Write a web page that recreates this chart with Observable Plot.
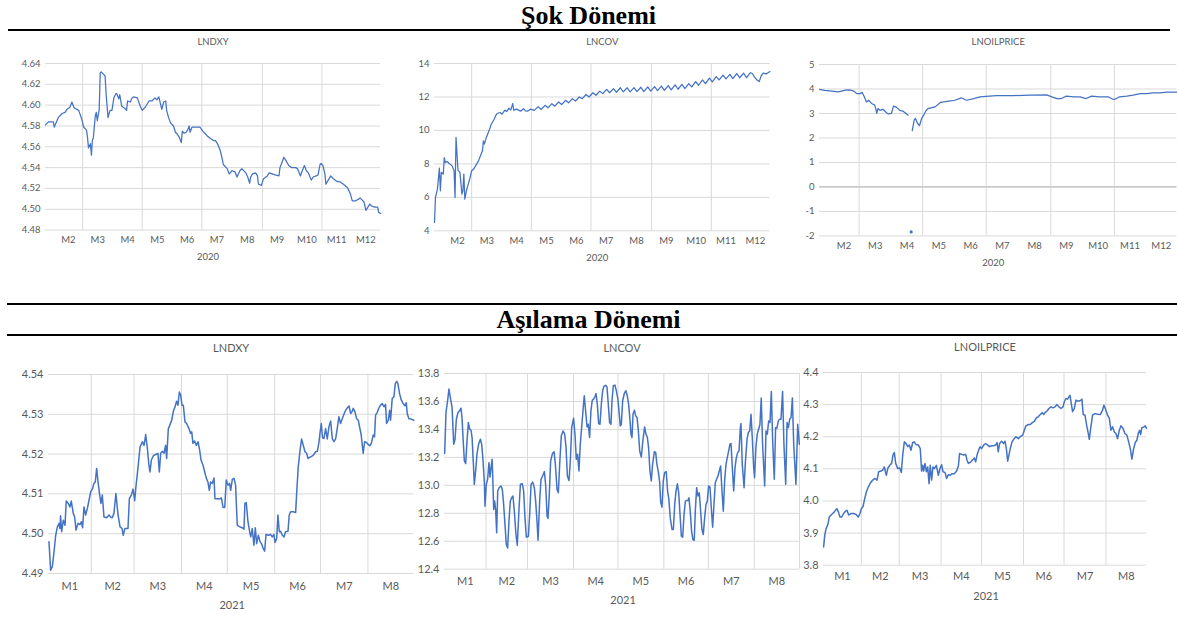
<!DOCTYPE html>
<html><head><meta charset="utf-8">
<script src="https://cdn.jsdelivr.net/npm/d3@7"></script>
<script src="https://cdn.jsdelivr.net/npm/@observablehq/plot@0.6"></script>
<style>
html,body{margin:0;padding:0;background:#fff;overflow:hidden}
#page{position:relative;width:1177px;height:618px;overflow:hidden;background:#fff}
.sect{position:absolute;left:0;width:1177px;text-align:center;font:bold 26px "Liberation Serif","Times New Roman",serif;color:#000;line-height:26px}
.bar{position:absolute;background:#000}
.chart{position:absolute}
</style></head><body>
<div id="page">
  <div class="sect" id="s1" style="top:3px"></div>
  <div class="bar" style="left:8px;top:29px;width:1162px;height:2.4px"></div>
  <div class="bar" style="left:7px;top:303px;width:1170px;height:2.4px"></div>
  <div class="sect" id="s2" style="top:307px"></div>
  <div class="bar" style="left:7px;top:334px;width:1170px;height:2.4px"></div>
</div>
<script>
// ---------- DATA: [day of year (Jan 1 = 0), value] ----------
const sectionTitles = ["Şok Dönemi", "Aşılama Dönemi"];
const chartTitles = ["LNDXY", "LNCOV", "LNOILPRICE"];

const ticksDxy2020 = [4.48, 4.50, 4.52, 4.54, 4.56, 4.58, 4.60, 4.62, 4.64];
const ticksCov2020 = [4, 6, 8, 10, 12, 14];
const ticksOil2020 = [-2, -1, 0, 1, 2, 3, 4, 5];
const ticksDxy2021 = [4.49, 4.50, 4.51, 4.52, 4.53, 4.54];
const ticksCov2021 = [12.4, 12.6, 12.8, 13.0, 13.2, 13.4, 13.6, 13.8];
const ticksOil2021 = [3.8, 3.9, 4.0, 4.1, 4.2, 4.3, 4.4];

const gridMonths2020 = [3, 5, 7, 9, 11];
const gridMonths2021 = [2, 3, 4, 5, 6, 7, 8];

const dxy2020 = [[22,4.581],[25,4.584],[30,4.584],[31,4.579],[35,4.588],[39,4.592],[42,4.593],[44,4.596],[47,4.598],[49,4.603],[51,4.598],[52,4.597],[56,4.595],[59,4.587],[61,4.579],[64,4.576],[65,4.569],[66,4.559],[68,4.563],[69,4.552],[70,4.566],[71,4.569],[73,4.590],[74,4.593],[75,4.585],[77,4.596],[78,4.631],[79,4.632],[81,4.630],[83,4.628],[84,4.611],[86,4.588],[88,4.595],[90,4.595],[92,4.607],[94,4.611],[95,4.611],[97,4.606],[98,4.610],[100,4.599],[103,4.597],[105,4.595],[106,4.604],[109,4.603],[110,4.606],[112,4.608],[116,4.607],[119,4.599],[121,4.595],[124,4.598],[128,4.604],[131,4.604],[133,4.606],[134,4.607],[136,4.605],[138,4.608],[140,4.600],[141,4.596],[143,4.603],[145,4.604],[146,4.595],[148,4.588],[150,4.583],[153,4.580],[155,4.574],[157,4.572],[159,4.569],[161,4.564],[162,4.575],[164,4.573],[166,4.574],[168,4.577],[169,4.580],[170,4.574],[172,4.579],[174,4.579],[177,4.579],[180,4.579],[183,4.575],[186,4.572],[188,4.570],[191,4.568],[194,4.566],[196,4.566],[198,4.563],[199,4.561],[201,4.556],[203,4.548],[204,4.543],[208,4.539],[210,4.534],[213,4.537],[216,4.536],[218,4.531],[221,4.537],[223,4.539],[227,4.535],[229,4.531],[231,4.525],[232,4.531],[234,4.534],[237,4.535],[239,4.532],[240,4.524],[243,4.523],[245,4.529],[249,4.532],[251,4.535],[254,4.534],[257,4.533],[261,4.532],[262,4.540],[264,4.545],[266,4.550],[268,4.547],[271,4.542],[274,4.540],[278,4.540],[280,4.539],[283,4.532],[284,4.535],[287,4.542],[289,4.537],[291,4.535],[294,4.528],[296,4.531],[299,4.532],[301,4.533],[303,4.543],[304,4.544],[306,4.542],[308,4.534],[309,4.524],[312,4.529],[314,4.532],[317,4.529],[320,4.527],[324,4.526],[327,4.524],[331,4.521],[332,4.519],[334,4.515],[336,4.508],[339,4.508],[343,4.510],[344,4.511],[346,4.509],[348,4.507],[350,4.499],[352,4.502],[354,4.505],[356,4.503],[359,4.502],[361,4.502],[362,4.502],[363,4.497],[365,4.496]];

const cov2020 = [[22,4.50],[23,6.0],[25,6.49],[27,7.75],[28,6.39],[29,7.49],[31,7.39],[32,8.38],[33,8.08],[35,8.14],[37,8.02],[40,7.88],[42,7.59],[43,5.99],[44,9.58],[46,7.63],[48,7.49],[50,6.19],[51,6.39],[52,7.39],[53,5.89],[55,6.49],[58,7.09],[60,7.59],[62,7.69],[64,7.88],[67,8.18],[69,8.48],[71,8.78],[72,9.38],[73,9.18],[75,9.58],[78,10.02],[80,10.37],[83,10.67],[85,10.93],[86,11.01],[89,11.07],[91,10.97],[94,11.21],[96,11.13],[98,11.33],[100,11.21],[102,11.61],[103,11.21],[106,11.27],[110,11.15],[113,11.3],[115,11.17],[117,11.15],[120,11.27],[124,11.2],[128,11.42],[131,11.25],[135,11.5],[138,11.35],[142,11.6],[145,11.45],[149,11.7],[152,11.55],[156,11.8],[159,11.65],[163,11.9],[166,11.75],[170,12.0],[173,11.9],[177,12.15],[180,12.0],[184,12.25],[187,12.1],[191,12.35],[194,12.2],[198,12.45],[201,12.25],[205,12.5],[208,12.28],[212,12.55],[215,12.3],[219,12.55],[222,12.3],[226,12.56],[229,12.32],[233,12.58],[236,12.32],[240,12.6],[243,12.35],[247,12.62],[250,12.38],[254,12.65],[257,12.4],[261,12.68],[264,12.42],[268,12.72],[271,12.46],[275,12.75],[278,12.5],[282,12.8],[285,12.6],[289,12.92],[292,12.7],[296,13.02],[299,12.8],[303,13.12],[306,12.9],[310,13.22],[313,13.02],[317,13.3],[320,13.08],[324,13.35],[327,13.1],[331,13.4],[334,13.15],[338,13.42],[341,13.15],[345,13.45],[347,13.4],[349,13.2],[352,13.0],[354,12.92],[356,13.26],[358,13.42],[361,13.38],[363,13.45],[365,13.52]];

const oil2020 = [[22,3.98],[27,3.94],[34,3.91],[40,3.88],[47,3.95],[51,3.96],[55,3.91],[58,3.81],[61,3.81],[63,3.86],[65,3.68],[67,3.47],[69,3.54],[72,3.41],[75,3.34],[76,3.20],[77,3.0],[78,3.20],[80,3.13],[83,3.17],[86,3.04],[88,2.98],[91,3.0],[93,3.3],[96,3.25],[99,3.13],[102,3.1],[105,3.0],[107,2.93],[109,null],[111,2.3],[113,2.75],[114,2.8],[116,2.6],[118,2.5],[120,2.8],[122,2.93],[124,3.1],[126,3.2],[133,3.27],[138,3.45],[146,3.5],[152,3.54],[158,3.64],[163,3.54],[170,3.61],[176,3.68],[182,3.7],[192,3.73],[208,3.73],[224,3.75],[240,3.76],[245,3.68],[250,3.61],[254,3.61],[259,3.71],[266,3.68],[272,3.68],[278,3.61],[283,3.71],[291,3.68],[299,3.68],[304,3.57],[307,3.61],[310,3.68],[317,3.71],[323,3.75],[330,3.81],[336,3.81],[342,3.84],[349,3.84],[355,3.87],[365,3.87]];
const oilIsolated2020 = [[110,-1.84]];

const dxy2021 = [[3.3,4.4980],[4.4,4.4908],[5.5,4.4917],[6.6,4.4954],[7.7,4.4996],[8.8,4.5017],[9.9,4.5026],[10.5,4.5013],[10.9,4.5045],[11.6,4.5005],[12.7,4.5034],[13.8,4.5021],[14.6,4.5082],[16.0,4.5076],[17.0,4.5067],[17.9,4.5082],[19.2,4.5051],[20.1,4.5042],[21.0,4.5009],[22.3,4.5026],[23.6,4.5023],[24.5,4.5030],[25.3,4.5015],[26.2,4.5067],[27.3,4.5047],[28.4,4.5063],[29.5,4.5084],[30.6,4.5105],[31.9,4.5114],[32.7,4.5126],[33.6,4.5130],[34.5,4.5164],[35.4,4.5130],[36.5,4.5097],[37.3,4.5076],[38.2,4.5097],[39.3,4.5042],[41.0,4.5040],[42.6,4.5047],[43.6,4.5042],[44.7,4.5040],[45.8,4.5051],[47.1,4.5101],[48.5,4.5047],[49.8,4.5017],[51.1,4.5013],[51.9,4.4996],[53.0,4.5013],[55.0,4.5013],[55.9,4.5088],[57.2,4.5097],[58.3,4.5112],[59.4,4.5083],[60.2,4.5118],[61.5,4.5164],[62.9,4.5218],[64.4,4.5231],[65.5,4.5222],[66.6,4.5249],[67.7,4.5214],[68.7,4.5172],[69.4,4.5155],[70.3,4.5185],[71.6,4.5196],[73.1,4.5199],[74.6,4.5202],[75.5,4.5155],[76.4,4.5202],[77.5,4.5207],[78.6,4.5202],[79.6,4.5222],[80.3,4.5189],[81.4,4.5264],[82.5,4.5274],[83.6,4.5285],[84.7,4.5308],[85.8,4.5319],[86.8,4.5333],[87.7,4.5323],[88.6,4.5356],[89.5,4.5348],[90.3,4.5323],[91.2,4.5323],[92.3,4.5281],[93.4,4.5277],[94.9,4.5264],[96.0,4.5252],[96.7,4.5256],[97.5,4.5227],[98.6,4.5233],[99.7,4.5222],[100.8,4.5231],[101.9,4.5210],[102.8,4.5185],[104.1,4.5172],[105.2,4.5155],[106.3,4.5139],[107.3,4.5130],[108.2,4.5109],[109.1,4.5130],[110.2,4.5126],[111.3,4.5140],[111.9,4.5088],[113.5,4.5088],[115.0,4.5087],[116.1,4.5090],[117.2,4.5066],[118.3,4.5066],[119.3,4.5135],[120.4,4.5122],[121.5,4.5126],[122.2,4.5109],[123.3,4.5137],[124.4,4.5139],[125.4,4.5122],[126.5,4.5021],[128.3,4.5017],[129.8,4.5015],[130.9,4.5011],[131.5,4.5076],[132.4,4.5078],[133.5,4.5030],[134.6,4.5005],[135.3,4.4992],[136.3,4.5013],[137.4,4.4971],[138.3,4.5015],[139.2,4.4975],[140.3,4.4996],[141.4,4.4980],[142.4,4.4975],[143.5,4.4963],[144.4,4.4956],[145.3,4.4998],[146.8,4.4996],[148.3,4.4998],[149.4,4.4992],[150.5,4.4998],[151.2,4.4978],[152.3,4.4988],[153.1,4.5047],[154.0,4.5005],[154.9,4.5006],[156.0,4.4996],[157.1,4.4992],[158.1,4.5005],[159.7,4.5006],[160.5,4.5047],[161.4,4.5055],[163.2,4.5055],[164.7,4.5053],[165.3,4.5097],[166.4,4.5168],[167.5,4.5207],[168.6,4.5238],[169.7,4.5222],[170.8,4.5206],[171.9,4.5202],[172.8,4.5189],[174.5,4.5193],[176.2,4.5197],[177.8,4.5206],[178.9,4.5207],[180.0,4.5231],[180.6,4.5252],[181.5,4.5277],[182.3,4.5241],[183.2,4.5239],[184.3,4.5264],[185.4,4.5238],[186.5,4.5269],[187.6,4.5283],[188.7,4.5239],[189.8,4.5231],[190.9,4.5239],[191.9,4.5264],[193.0,4.5294],[194.1,4.5277],[195.2,4.5289],[196.3,4.5300],[197.4,4.5310],[198.5,4.5316],[199.6,4.5321],[200.7,4.5302],[201.5,4.5306],[202.4,4.5315],[203.5,4.5306],[204.6,4.5289],[205.7,4.5285],[206.5,4.5269],[207.6,4.5248],[208.3,4.5222],[208.9,4.5202],[209.8,4.5231],[211.1,4.5229],[212.2,4.5224],[213.3,4.5221],[214.2,4.5227],[215.5,4.5248],[216.3,4.5243],[217.0,4.5298],[218.1,4.5305],[219.2,4.5316],[220.3,4.5323],[221.4,4.5327],[222.5,4.5319],[223.5,4.5325],[224.2,4.5277],[225.3,4.5285],[226.2,4.5310],[226.8,4.5285],[227.9,4.5340],[229.0,4.5344],[229.9,4.5377],[230.8,4.5383],[231.6,4.5377],[232.7,4.5352],[233.8,4.5336],[235.1,4.5327],[236.2,4.5321],[237.1,4.5329],[237.7,4.5302],[238.8,4.5289],[240.3,4.5288],[242.0,4.5285]];

const cov2021 = [[3.1,13.227],[4.0,13.521],[5.1,13.605],[6.0,13.689],[6.9,13.629],[8.1,13.557],[9.2,13.294],[10.1,13.330],[11.0,13.473],[12.1,13.521],[13.2,13.533],[14.1,13.552],[14.8,13.485],[15.5,13.342],[16.4,13.174],[17.3,13.155],[18.2,13.318],[19.1,13.449],[20.0,13.401],[20.9,13.394],[21.6,13.342],[22.5,13.150],[23.1,13.007],[24.0,13.102],[24.9,13.222],[26.0,13.294],[27.2,13.330],[28.1,13.294],[29.0,13.174],[29.9,13.019],[30.3,12.851],[31.2,13.007],[32.1,13.043],[33.0,13.162],[33.7,13.059],[34.4,13.126],[35.1,13.186],[35.5,13.078],[36.2,12.827],[36.8,12.887],[37.5,12.827],[38.2,12.660],[38.9,12.959],[39.8,12.983],[41.1,12.995],[42.0,12.971],[42.9,12.863],[43.8,12.720],[44.7,12.576],[45.6,12.552],[46.5,12.744],[47.4,12.887],[48.3,12.911],[49.2,12.923],[50.1,12.815],[51.2,12.648],[52.1,12.571],[53.3,12.839],[54.2,13.007],[55.5,13.011],[56.4,12.959],[57.3,12.767],[58.2,12.629],[59.6,12.636],[60.5,12.803],[61.4,13.007],[62.5,13.023],[63.6,12.983],[64.5,12.887],[65.4,12.744],[66.1,12.607],[67.2,12.887],[68.1,13.043],[69.2,13.067],[70.4,13.098],[71.3,12.995],[72.2,12.779],[72.8,12.763],[73.7,12.935],[74.6,13.174],[75.8,13.227],[76.9,13.241],[77.8,13.150],[78.9,12.971],[79.8,12.947],[80.7,13.150],[81.8,13.354],[83.0,13.389],[84.1,13.366],[85.0,13.270],[85.9,13.067],[87.0,13.035],[87.9,13.174],[88.8,13.413],[90.1,13.480],[91.1,13.354],[91.9,13.186],[92.8,13.222],[93.7,13.102],[94.6,13.294],[95.8,13.449],[96.7,13.569],[97.3,13.641],[98.2,13.533],[99.2,13.418],[100.0,13.437],[100.9,13.342],[101.8,13.533],[102.7,13.610],[103.6,13.617],[104.5,13.633],[105.2,13.657],[106.1,13.581],[107.0,13.442],[107.9,13.437],[108.8,13.581],[109.7,13.677],[110.6,13.710],[111.7,13.715],[112.6,13.705],[113.5,13.581],[114.4,13.449],[115.3,13.437],[116.0,13.605],[116.9,13.712],[118.0,13.717],[118.9,13.677],[120.0,13.617],[120.9,13.509],[121.6,13.425],[122.3,13.437],[123.2,13.605],[124.3,13.657],[125.4,13.677],[126.3,13.641],[127.2,13.581],[128.1,13.473],[128.8,13.366],[129.5,13.342],[130.2,13.509],[131.1,13.538],[132.0,13.497],[132.9,13.485],[133.8,13.389],[134.7,13.246],[135.8,13.203],[136.7,13.306],[138.0,13.418],[138.9,13.366],[139.8,13.346],[140.7,13.270],[141.6,13.102],[142.5,13.031],[143.4,13.150],[144.6,13.241],[145.5,13.234],[146.3,13.150],[147.2,13.102],[148.2,13.019],[148.8,12.882],[149.7,12.844],[150.6,13.031],[151.5,13.090],[152.6,13.098],[153.5,12.959],[154.4,12.899],[155.3,12.767],[156.5,12.684],[157.4,12.684],[158.3,12.863],[159.2,12.959],[160.1,13.011],[161.0,12.947],[161.9,12.791],[162.8,12.636],[163.7,12.629],[164.6,12.791],[165.5,12.887],[166.4,12.892],[167.3,12.892],[167.9,12.911],[168.8,12.815],[169.7,12.672],[170.6,12.612],[171.5,12.607],[172.2,12.815],[173.1,12.983],[174.0,12.923],[174.9,12.947],[175.8,12.815],[176.7,12.684],[177.6,12.648],[178.5,12.767],[179.4,12.863],[180.3,12.887],[181.2,12.995],[182.1,12.988],[183.0,12.839],[183.9,12.700],[184.8,12.863],[185.7,13.019],[186.6,13.043],[187.5,13.067],[188.4,13.102],[189.3,13.138],[190.2,12.959],[191.1,12.815],[192.0,13.031],[192.9,13.150],[193.8,13.198],[194.7,13.246],[195.6,13.294],[196.3,13.299],[197.2,13.126],[198.1,12.959],[199.0,13.126],[199.9,13.198],[200.8,13.234],[201.7,13.246],[202.6,13.413],[203.0,13.442],[203.9,13.150],[205.1,12.983],[205.9,13.150],[207.1,13.330],[208.0,13.378],[208.9,13.389],[209.8,13.509],[210.7,13.330],[211.6,13.126],[212.2,13.055],[213.1,13.270],[214.0,13.366],[214.9,13.401],[215.8,13.433],[216.7,13.624],[217.6,13.294],[219.0,12.995],[219.9,13.389],[220.8,13.366],[221.7,13.461],[222.6,13.449],[223.5,13.672],[224.4,13.318],[225.5,13.043],[226.4,13.413],[227.3,13.409],[228.2,13.461],[229.1,13.473],[230.0,13.473],[231.1,13.672],[232.0,13.294],[233.2,13.007],[234.1,13.449],[235.0,13.413],[235.9,13.473],[236.8,13.485],[237.7,13.624],[238.6,13.294],[240.1,13.007],[241.3,13.437],[242.4,13.294]];

const oil2021 = [[3.1,3.857],[3.9,3.893],[4.9,3.914],[6.1,3.925],[7.3,3.950],[8.6,3.956],[9.8,3.961],[11.0,3.966],[12.3,3.974],[13.0,3.976],[14.0,3.966],[15.2,3.950],[16.5,3.950],[17.9,3.961],[19.2,3.968],[20.4,3.971],[21.6,3.956],[23.4,3.961],[25.3,3.961],[27.1,3.958],[28.8,3.950],[30.0,3.961],[31.0,3.976],[32.2,3.982],[33.2,4.002],[34.7,4.028],[36.2,4.044],[37.7,4.056],[39.4,4.065],[41.1,4.070],[42.6,4.065],[43.8,4.091],[45.5,4.093],[46.8,4.096],[48.0,4.106],[48.8,4.091],[49.5,4.080],[50.5,4.101],[52.0,4.111],[53.4,4.117],[54.4,4.143],[55.4,4.151],[56.4,4.117],[57.9,4.101],[59.4,4.103],[60.6,4.089],[61.6,4.143],[62.8,4.184],[64.0,4.179],[65.3,4.169],[66.5,4.174],[67.7,4.158],[69.0,4.182],[70.2,4.184],[71.4,4.176],[73.2,4.174],[74.6,4.163],[75.6,4.093],[76.4,4.111],[77.1,4.093],[78.1,4.117],[79.1,4.091],[80.1,4.106],[81.1,4.054],[82.0,4.111],[83.0,4.065],[84.0,4.106],[85.0,4.101],[86.5,4.111],[88.0,4.080],[89.2,4.101],[90.4,4.113],[91.4,4.091],[92.9,4.089],[94.1,4.070],[95.4,4.082],[96.8,4.080],[98.3,4.085],[99.8,4.085],[101.5,4.093],[102.8,4.109],[103.7,4.148],[105.2,4.145],[106.7,4.143],[108.2,4.145],[109.2,4.127],[110.2,4.117],[111.6,4.120],[113.1,4.127],[114.6,4.134],[115.6,4.122],[116.6,4.143],[117.8,4.158],[118.8,4.169],[120.0,4.163],[121.5,4.174],[123.0,4.179],[124.5,4.174],[125.9,4.169],[127.4,4.172],[128.9,4.172],[130.4,4.174],[131.4,4.182],[132.3,4.153],[133.3,4.179],[134.8,4.186],[136.3,4.179],[137.3,4.186],[138.3,4.163],[139.3,4.124],[140.2,4.143],[141.2,4.163],[142.5,4.184],[143.7,4.192],[145.4,4.200],[147.1,4.194],[148.6,4.200],[150.4,4.205],[151.6,4.220],[152.8,4.234],[154.5,4.238],[156.0,4.238],[157.5,4.244],[159.0,4.248],[160.5,4.259],[161.9,4.262],[163.4,4.269],[164.9,4.275],[165.9,4.269],[166.9,4.275],[168.4,4.280],[169.8,4.288],[171.3,4.293],[172.8,4.290],[174.3,4.293],[175.8,4.300],[177.2,4.293],[178.7,4.288],[180.2,4.293],[181.2,4.309],[182.4,4.319],[183.6,4.317],[184.6,4.324],[185.4,4.329],[186.1,4.309],[187.3,4.278],[188.6,4.288],[189.8,4.314],[191.0,4.311],[192.3,4.311],[193.5,4.314],[194.2,4.317],[195.2,4.269],[196.5,4.267],[197.7,4.236],[198.7,4.215],[199.7,4.192],[200.7,4.226],[202.1,4.267],[203.9,4.272],[205.8,4.270],[207.8,4.269],[209.5,4.283],[210.5,4.298],[211.8,4.285],[213.2,4.267],[214.5,4.257],[215.7,4.220],[216.9,4.231],[218.2,4.215],[219.4,4.210],[220.6,4.194],[221.9,4.220],[223.1,4.234],[224.6,4.226],[226.0,4.210],[227.5,4.205],[228.8,4.184],[230.0,4.163],[231.2,4.130],[232.5,4.163],[233.7,4.182],[234.9,4.189],[235.9,4.210],[236.9,4.220],[237.7,4.207],[238.6,4.228],[239.9,4.230],[241.1,4.234],[242.0,4.226]];

// ---------- DRAWING ----------
const page = document.getElementById("page");
document.getElementById("s1").textContent = sectionTitles[0];
document.getElementById("s2").textContent = sectionTitles[1];
const dayDate = (year, d) => new Date(Date.UTC(year, 0, 1) + d * 864e5);
const monthStart = (y, m) => new Date(Date.UTC(y, m - 1, 1));
const BLUE = "#4472c4", GRID = "#d9d9d9", TXT = "#595959";

function chart(c) {
  const mL = 50, mR = 14, mT = 36, mB = 44;
  const width = (c.R - c.L) + mL + mR, height = (c.B - c.T) + mT + mB;
  const x0 = dayDate(c.year, c.d0), x1 = dayDate(c.year, c.d1);
  const mids = [];
  for (let m = 1; m <= 12; m++) {
    const a = Math.max(+monthStart(c.year, m), +x0), b = Math.min(+monthStart(c.year, m + 1), +x1);
    if (b - a >= 15 * 864e5) mids.push(new Date((a + b) / 2));
  }
  const toXY = {x: d => dayDate(c.year, d[0]), y: d => d[1]};
  const marks = [
    Plot.ruleY(c.ticks, {stroke: GRID, strokeWidth: 1}),
    Plot.ruleX(c.gridMonths.map(m => monthStart(c.year, m)), {stroke: GRID, strokeWidth: 1})
  ];
  if (c.rightEdge) marks.push(Plot.ruleX([x1], {stroke: GRID}));
  if (c.zeroLine) marks.push(Plot.ruleY([0], {stroke: "#bfbfbf", strokeWidth: 1.2}));
  marks.push(Plot.line(c.series, {...toXY, stroke: BLUE, strokeWidth: c.lw, strokeLinejoin: "round"}));
  if (c.dots) marks.push(Plot.dot(c.dots, {...toXY, r: 1.6, fill: BLUE, stroke: null}));
  marks.push(
    Plot.axisY(c.ticks, {tickSize: 0, tickPadding: 5, tickFormat: c.fmt, fill: TXT, fontSize: c.fs, label: null}),
    Plot.axisX(mids, {tickSize: 0, tickPadding: c.mpad, tickFormat: d => "M" + (d.getUTCMonth() + 1), fill: TXT, fontSize: c.fs, label: null}),
    Plot.text([c.title], {frameAnchor: "top", lineAnchor: "middle", dy: c.tdy, fill: TXT, fontSize: c.fs}),
    Plot.text([String(c.year)], {frameAnchor: "bottom", lineAnchor: "middle", dy: c.ydy, dx: c.ydx, fill: TXT, fontSize: c.fs})
  );
  const svg = Plot.plot({
    width, height, marginLeft: mL, marginRight: mR, marginTop: mT, marginBottom: mB,
    style: {fontFamily: "Lato, 'Open Sans', sans-serif", color: TXT, background: "transparent", overflow: "visible", maxWidth: "none"},
    x: {type: "utc", domain: [x0, x1]},
    y: {domain: [c.ticks[0], c.ticks[c.ticks.length - 1]]},
    marks
  });
  const div = document.createElement("div");
  div.className = "chart";
  div.style.left = (c.L - mL) + "px";
  div.style.top = (c.T - mT) + "px";
  div.appendChild(svg);
  page.appendChild(div);
}

const f2 = d => d.toFixed(2), f1 = d => d.toFixed(1), f0 = d => String(d);
const topCfg = {year: 2020, d0: 22, d1: 365, gridMonths: gridMonths2020, fs: 9.5, lw: 1.25, tdy: -22, ydy: 27, ydx: -5, mpad: 6.5};
const botCfg = {year: 2021, d0: 3, d1: 242, gridMonths: gridMonths2021, fs: 11, lw: 1.5, ydy: 31.7, ydx: 1, mpad: 7.5};

chart({...topCfg, title: chartTitles[0], series: dxy2020, ticks: ticksDxy2020, fmt: f2, L: 45.2, R: 380.3, T: 62.7, B: 229.3});
chart({...topCfg, title: chartTitles[1], series: cov2020, ticks: ticksCov2020, fmt: f0, L: 433.5, R: 769, T: 62.7, B: 230});
chart({...topCfg, title: chartTitles[2], series: oil2020, dots: oilIsolated2020, ticks: ticksOil2020, fmt: f0, zeroLine: true, L: 819.4, R: 1176.8, T: 64.3, B: 235.7, tdy: -22.6});
chart({...botCfg, title: chartTitles[0], series: dxy2021, ticks: ticksDxy2021, fmt: f2, L: 47.9, R: 413.2, T: 374.3, B: 573.3, tdy: -26, mpad: 8.5});
chart({...botCfg, title: chartTitles[1], series: cov2021, ticks: ticksCov2021, fmt: f1, d1: 242.5, rightEdge: true, L: 444.2, R: 799.2, T: 373.3, B: 569, tdy: -25, mpad: 8});
chart({...botCfg, title: chartTitles[2], series: oil2021, ticks: ticksOil2021, fmt: f1, L: 822.5, R: 1145.5, T: 372.3, B: 565, tdy: -24.6, mpad: 6.7});
</script>
</body></html>
